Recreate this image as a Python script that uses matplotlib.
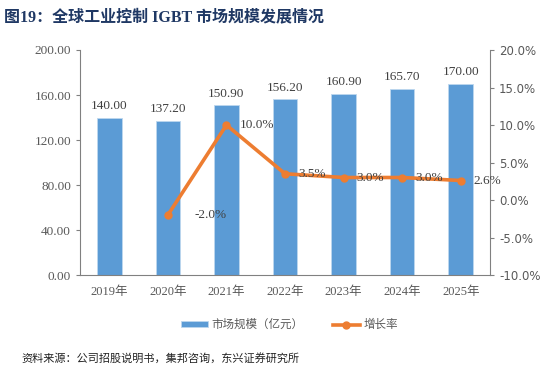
import matplotlib.pyplot as plt
import numpy as np

plt.rcParams['font.family'] = ['Liberation Serif', 'Noto Sans CJK SC']

# data
years = ['2019年', '2020年', '2021年', '2022年', '2023年', '2024年', '2025年']
market = [140.00, 137.20, 150.90, 156.20, 160.90, 165.70, 170.00]
growth = [np.nan, -2.0, 10.0, 3.5, 3.0, 3.0, 2.6]

bar_color = '#5B9BD5'
line_color = '#ED7D31'
txt = '#595959'
axis_c = '#808080'

fig = plt.figure(figsize=(5.46, 3.69), dpi=100)
ax = fig.add_axes([0.1465, 0.2547, 0.751, 0.6098])
ax2 = ax.twinx()

x = np.arange(len(years))
ax.bar(x, market, width=0.42, color=bar_color, edgecolor='#BDD7EE', linewidth=0.6,
       label='市场规模（亿元）', zorder=2)
for xi, v in zip(x, market):
    ax.text(xi, v + 5, f'{v:.2f}', ha='center', va='bottom', fontsize=9.5, color='#404040')

ax2.plot(x, growth, color=line_color, lw=2.6, marker='o', ms=5, label='增长率', zorder=3)
for i, (xi, g) in enumerate(zip(x, growth)):
    if not np.isnan(g):
        dx = 0.45 if i == 1 else 0.22
        ax2.text(xi + dx, g, f'{g:.1f}%', ha='left', va='center', fontsize=9.5, color='#404040')

ax.set_xlim(-0.5, len(years) - 0.5)
ax.set_ylim(0, 200)
ax.set_yticks(np.arange(0, 201, 40))
ax.set_yticklabels([f'{v:.2f}' for v in np.arange(0, 201, 40)], fontsize=9.5, color=txt)
ax.set_xticks(x)
ax.set_xticklabels(years, fontsize=9, color=txt)
ax.tick_params(axis='x', length=0, pad=8)
ax.tick_params(axis='y', length=3, color=axis_c)

ax2.set_ylim(-10, 20)
ax2.set_yticks(np.arange(-10, 21, 5))
ax2.set_yticklabels([f'{v:.1f}%' for v in np.arange(-10, 21, 5)], fontsize=9, color=txt,
                    family=['DejaVu Sans'])
ax2.tick_params(axis='y', length=3, color=axis_c, labelsize=8.5)

for a in (ax, ax2):
    a.spines['top'].set_visible(False)
    for s in ('left', 'right', 'bottom'):
        a.spines[s].set_color(axis_c)
ax.spines['right'].set_visible(False)
ax2.spines['left'].set_visible(False)
ax2.spines['bottom'].set_visible(False)

h1, l1 = ax.get_legend_handles_labels()
h2, l2 = ax2.get_legend_handles_labels()
leg = fig.legend(h1 + h2, l1 + l2, loc='center', bbox_to_anchor=(0.53, 0.12), ncol=2,
                 frameon=False, handlelength=2.4, handleheight=0.45, handletextpad=0.3,
                 columnspacing=2.5, prop={'family': ['Noto Sans CJK SC'], 'size': 8.3})
for t in leg.get_texts():
    t.set_color(txt)

fig.text(0.007, 0.975, '图19：全球工业控制 IGBT 市场规模发展情况', ha='left', va='top',
         fontsize=11.5, fontweight='bold', color='#1F3864')
fig.text(0.04, 0.03, '资料来源：公司招股说明书，集邦咨询，东兴证券研究所', ha='left', va='center',
         fontsize=8, style='italic', color='#222222')

fig.savefig('out.png', dpi=100)
